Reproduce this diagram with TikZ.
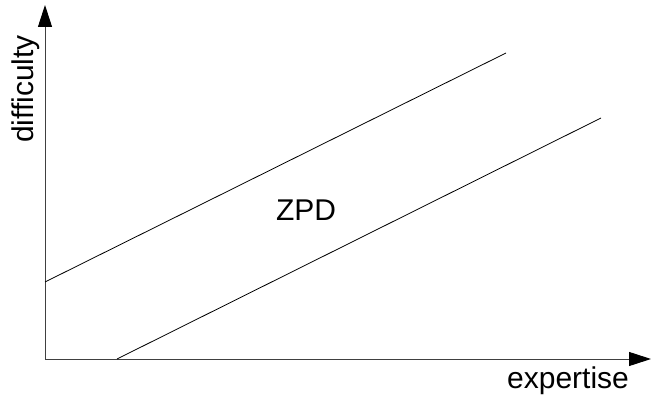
\documentclass[tikz,border=0pt]{standalone}
\usepackage{fontspec}
\setmainfont{Liberation Sans}
\usetikzlibrary{arrows.meta}
\begin{document}
\begin{tikzpicture}[x=1pt,y=-1pt,
  axis/.style={draw=black!75, line width=1pt, -{Triangle[length=22pt,width=14pt,black]}},
  zline/.style={draw=black, line width=0.8pt},
  lbl/.style={font=\fontsize{30}{32}\selectfont, inner sep=0pt}]
\useasboundingbox (0,0) rectangle (651,398);
\coordinate (O) at (45,359);
\coordinate (Xend) at (651,359);
\coordinate (Yend) at (45,5);
\coordinate (U1) at (45,282);
\coordinate (U2) at (506,53);
\coordinate (L1) at (117,359);
\coordinate (L2) at (601,118);
\draw[axis] (O) -- (Xend);
\draw[axis] (O) -- (Yend);
\draw[zline] (U1) -- (U2);
\draw[zline] (L1) -- (L2);
\node[lbl, rotate=90] (ylab) at (26,89) {difficulty};
\node[lbl] (zpd) at (306,210) {ZPD};
\node[lbl] (xlab) at (568,381) {expertise};
\end{tikzpicture}
\end{document}
